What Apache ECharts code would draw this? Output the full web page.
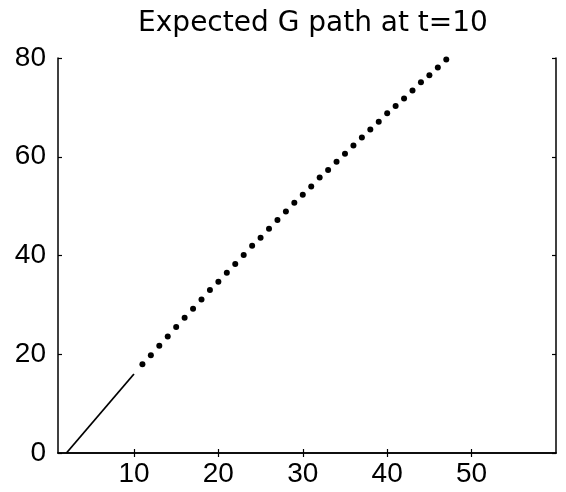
<!DOCTYPE html>
<html>
<head>
<meta charset="utf-8">
<script src="https://cdn.jsdelivr.net/npm/echarts@6/dist/echarts.min.js"></script>
<style>html,body{margin:0;padding:0;background:#fff}#c{width:566px;height:492px}</style>
</head>
<body>
<div id="c"></div>
<script>
var titleText = "Expected G path at t=10";
var xTicks = [10, 20, 30, 40, 50];
var yTicks = [0, 20, 40, 60, 80];
// observed path (solid line)
var pathX = [2, 10];
var pathY = [0, 16];
// expected path (dots)
var expX = [11,12,13,14,15,16,17,18,19,20,21,22,23,24,25,26,27,28,29,30,31,32,33,34,35,36,37,38,39,40,41,42,43,44,45,46,47];
var expY = [18.0,19.8,21.7,23.6,25.5,27.4,29.2,31.1,33.0,34.7,36.5,38.3,40.1,42.0,43.6,45.4,47.2,48.9,50.7,52.3,54.0,55.8,57.3,59.0,60.6,62.3,63.9,65.5,67.1,68.8,70.3,71.8,73.4,75.1,76.5,78.1,79.7];

var font = "Liberation Sans, Arial, Helvetica, sans-serif";
var titleFont = "DejaVu Sans, sans-serif";
function pairs(xs, ys){ return xs.map(function(x,i){ return [x, ys[i]]; }); }

var chart = echarts.init(document.getElementById('c'), null, {renderer:'canvas'});
var axisLineStyle = {show:true, lineStyle:{color:'#000', width:1.5}};
chart.setOption({
  animation:false,
  backgroundColor:'#fff',
  title:{text:titleText, left:308, textAlign:'center', top:5,
    textStyle:{fontFamily:titleFont, fontSize:28, fontWeight:'normal', color:'#000'}},
  grid:{left:58, right:10, top:58, bottom:39, containLabel:false},
  xAxis:[
    {type:'value', min:1, max:60, position:'bottom',
     axisLine:axisLineStyle, splitLine:{show:false},
     axisTick:{show:true, inside:true, length:4, customValues:xTicks, lineStyle:{color:'#000', width:1.2}},
     axisLabel:{show:true, customValues:xTicks, margin:7, color:'#000', fontFamily:font, fontSize:28}},
    {type:'value', min:1, max:60, position:'top',
     axisLine:axisLineStyle, splitLine:{show:false},
     axisTick:{show:true, inside:true, length:4, customValues:xTicks, lineStyle:{color:'#000', width:1.2}},
     axisLabel:{show:false}}
  ],
  yAxis:[
    {type:'value', min:0, max:80, interval:20, position:'left',
     axisLine:axisLineStyle, splitLine:{show:false},
     axisTick:{show:true, inside:true, length:4, lineStyle:{color:'#000', width:1.2}},
     axisLabel:{show:true, margin:12, color:'#000', fontFamily:font, fontSize:28,
       customValues:yTicks}},
    {type:'value', min:0, max:80, interval:20, position:'right',
     axisLine:axisLineStyle, splitLine:{show:false},
     axisTick:{show:true, inside:true, length:4, lineStyle:{color:'#000', width:1.2}},
     axisLabel:{show:false}}
  ],
  series:[
    {type:'line', data:pairs(pathX, pathY), showSymbol:false, symbol:'none',
     lineStyle:{color:'#000', width:1.8}, xAxisIndex:0, yAxisIndex:0, z:3},
    {type:'scatter', data:pairs(expX, expY), symbol:'circle', symbolSize:6,
     itemStyle:{color:'#000', opacity:1}, xAxisIndex:0, yAxisIndex:0, z:3}
  ]
});
</script>
</body>
</html>
